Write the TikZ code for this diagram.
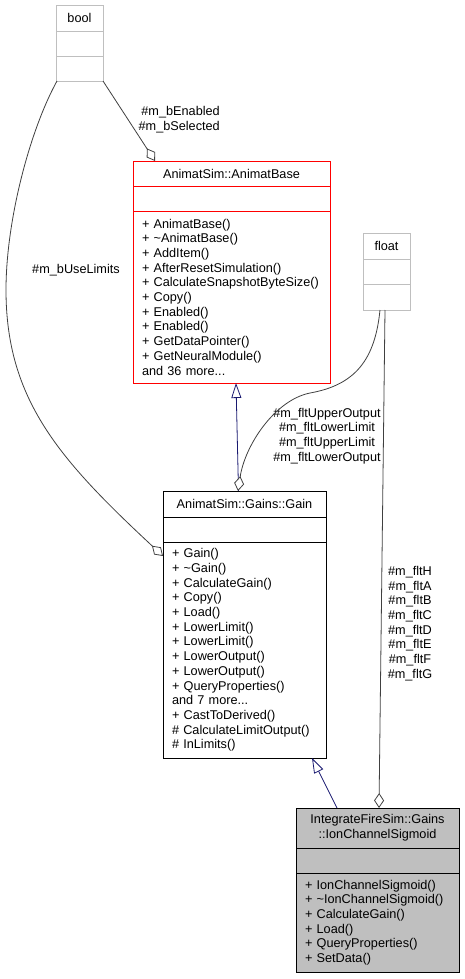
\documentclass[tikz,border=0pt]{standalone}
\usepackage{fontspec}
\setmainfont{Liberation Sans}
\usetikzlibrary{arrows.meta, positioning}
\definecolor{edgegray}{RGB}{64, 64, 64}
\definecolor{inheritblue}{RGB}{25, 25, 112}
\definecolor{lightgray1}{RGB}{191, 191, 191}
\definecolor{red1}{RGB}{255, 0, 0}
\newcommand{\umlsize}{\fontsize{12.7}{14.7}\selectfont}
\tikzset{
  classpart/.style={draw, rectangle, outer sep=0pt, inner xsep=9pt, inner ysep=0pt, line width=0.9pt, font=\umlsize},
  oplist/.style={classpart, align=left},
  member/.style={draw=edgegray, line width=0.8pt, -{Diamond[fill=white, length=15pt, width=10pt]}},
  inherit/.style={draw=inheritblue, line width=0.8pt, -{Triangle[open, length=15pt, width=10pt]}},
  memberlabel/.style={inner sep=0pt, font=\umlsize, align=center}
}

\begin{document}
\begin{tikzpicture}[x=1pt, y=-1pt]
  \useasboundingbox (0,0) rectangle (465,979);

  % bool
  \node[classpart, draw=lightgray1, anchor=north west, minimum width=47pt, minimum height=26pt] (boolhead) at (56,5) {bool};
  \node[classpart, draw=lightgray1, below=0pt of boolhead, minimum width=47pt, minimum height=25pt] (boolattr) {};
  \node[classpart, draw=lightgray1, below=0pt of boolattr, minimum width=47pt, minimum height=25pt] (boolops) {};

  % float
  \node[classpart, draw=lightgray1, anchor=north west, minimum width=47pt, minimum height=26pt] (floathead) at (363,233) {float};
  \node[classpart, draw=lightgray1, below=0pt of floathead, minimum width=47pt, minimum height=25pt] (floatattr) {};
  \node[classpart, draw=lightgray1, below=0pt of floatattr, minimum width=47pt, minimum height=26pt] (floatops) {};

  % AnimatBase
  \node[classpart, draw=red1, anchor=north west, minimum width=197pt, minimum height=25pt] (abhead) at (133,161) {AnimatSim::AnimatBase};
  \node[classpart, draw=red1, below=0pt of abhead, minimum width=197pt, minimum height=25pt] (abattr) {};
  \node[oplist, draw=red1, below=0pt of abattr, text width=179pt, minimum height=172pt] (abops) {
    + AnimatBase()\\
    + \textasciitilde AnimatBase()\\
    + AddItem()\\
    + AfterResetSimulation()\\
    + CalculateSnapshotByteSize()\\
    + Copy()\\
    + Enabled()\\
    + Enabled()\\
    + GetDataPointer()\\
    + GetNeuralModule()\\
    and 36 more...};

  % Gain
  \node[classpart, anchor=north west, minimum width=163pt, minimum height=26pt] (gainhead) at (163,491) {AnimatSim::Gains::Gain};
  \node[classpart, below=0pt of gainhead, minimum width=163pt, minimum height=25pt] (gainattr) {};
  \node[oplist, below=0pt of gainattr, text width=145pt, minimum height=216pt] (gainops) {
    + Gain()\\
    + \textasciitilde Gain()\\
    + CalculateGain()\\
    + Copy()\\
    + Load()\\
    + LowerLimit()\\
    + LowerLimit()\\
    + LowerOutput()\\
    + LowerOutput()\\
    + QueryProperties()\\
    and 7 more...\\
    + CastToDerived()\\
    \# CalculateLimitOutput()\\
    \# InLimits()};

  % IonChannelSigmoid
  \node[classpart, fill=lightgray1, anchor=north west, text width=145pt, align=center, minimum height=40pt] (icshead) at (296,808) {IntegrateFireSim::Gains\\::IonChannelSigmoid};
  \node[classpart, fill=lightgray1, below=0pt of icshead, minimum width=163pt, minimum height=25pt] (icsattr) {};
  \node[oplist, fill=lightgray1, below=0pt of icsattr, text width=145pt, minimum height=99pt] (icsops) {
    + IonChannelSigmoid()\\
    + \textasciitilde IonChannelSigmoid()\\
    + CalculateGain()\\
    + Load()\\
    + QueryProperties()\\
    + SetData()};

  % member labels
  \node[memberlabel, align=right, anchor=east] (benlabel) at (220,119.5) {\#m\_bEnabled\\\#m\_bSelected};
  \node[memberlabel] (uselimlabel) at (76,270) {\#m\_bUseLimits};
  \node[memberlabel] (fltlimlabel) at (327,436) {\#m\_fltUpperOutput\\\#m\_fltLowerLimit\\\#m\_fltUpperLimit\\\#m\_fltLowerOutput};
  \node[memberlabel] (fltcoeflabel) at (410,623.5) {\#m\_fltH\\\#m\_fltA\\\#m\_fltB\\\#m\_fltC\\\#m\_fltD\\\#m\_fltE\\\#m\_fltF\\\#m\_fltG};

  % connectors
  \draw[member] (boolops.south east) -- ([xshift=22pt]abhead.north west);
  \draw[member] ([xshift=1pt]boolops.south west) .. controls (30,130) and (6,220) .. (6,290)
    .. controls (6,400) and (60,460) .. ([yshift=-14pt]gainops.north west);
  \draw[inherit] ([xshift=-6pt]gainhead.north) -- ([xshift=4.5pt]abops.south);
  \draw[member] ([xshift=-6.5pt]floatops.south) .. controls (375,360) and (355,385) .. (310,393)
    .. controls (275,400) and (245,445) .. ([xshift=-6.5pt]gainhead.north);
  \draw[member] ([xshift=-1.5pt]floatops.south) -- ([xshift=1.5pt]icshead.north);
  \draw[inherit] ([xshift=-40.5pt]icshead.north) -- ([xshift=-14pt]gainops.south east);
\end{tikzpicture}
\end{document}
